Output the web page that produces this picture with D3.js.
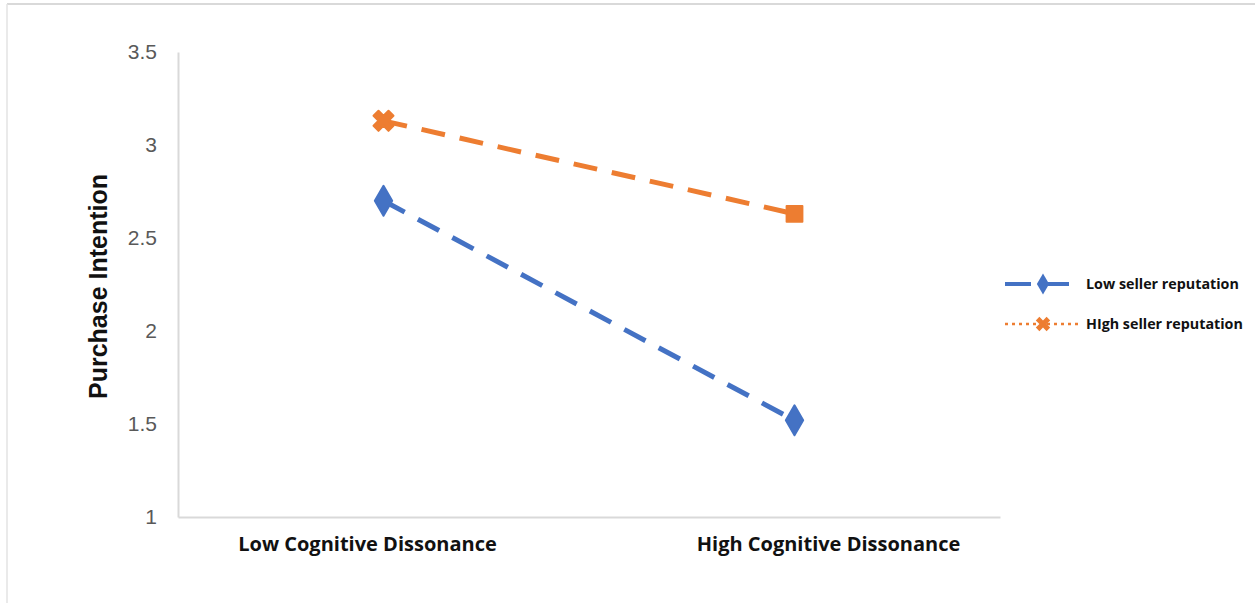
<!DOCTYPE html>
<html>
<head>
<meta charset="utf-8">
<script src="https://cdn.jsdelivr.net/npm/d3@7"></script>
<style>
  body { margin: 0; background: #fff; }
  svg { display: block; }
</style>
</head>
<body>
<svg id="chart"></svg>
<script>
const categories = ['Low Cognitive Dissonance', 'High Cognitive Dissonance'];
const lowReputation = [2.70, 1.52];
const highReputation = [3.13, 2.63];
const yTicks = [1, 1.5, 2, 2.5, 3, 3.5];
const seriesNames = ['Low seller reputation', 'HIgh seller reputation'];

const width = 1255, height = 603;
const svg = d3.select('#chart').attr('width', width).attr('height', height);

// frame
svg.append('line').attr('x1', 7).attr('x2', width).attr('y1', 4).attr('y2', 4)
  .attr('stroke', '#d9d9d9').attr('stroke-width', 2);
svg.append('line').attr('x1', 7).attr('x2', 7).attr('y1', 4).attr('y2', height)
  .attr('stroke', '#e3e3e3').attr('stroke-width', 1.5);

const margin = { left: 178, right: 255, top: 52, bottom: 86 };
const x = d3.scaleBand().domain(categories)
  .range([margin.left, width - margin.right]);
const y = d3.scaleLinear().domain([1, 3.5])
  .range([height - margin.bottom, margin.top]);

// axes
const yAxis = svg.append('g').attr('transform', `translate(${margin.left},0)`)
  .call(d3.axisLeft(y).tickValues(yTicks).tickSize(0).tickPadding(21)
    .tickFormat(d3.format('~g')));
yAxis.select('.domain').attr('stroke', '#d9d9d9').attr('stroke-width', 2);
yAxis.selectAll('text').attr('font-family', 'Liberation Sans, Arial, sans-serif')
  .attr('font-size', 21).attr('fill', '#595959');

const xAxis = svg.append('g').attr('transform', `translate(0,${y(1)})`)
  .call(d3.axisBottom(x).tickSize(0).tickPadding(20));
xAxis.select('.domain').attr('stroke', '#d9d9d9').attr('stroke-width', 2);
xAxis.selectAll('text').attr('font-family', 'Open Sans, DejaVu Sans, sans-serif')
  .attr('font-weight', 'bold').attr('font-size', 20).attr('fill', '#111')
  .attr('dx', (d, i) => i === 0 ? -16 : 34);

svg.append('text')
  .attr('transform', `translate(107,${(y(1) + y(3.5)) / 2 + 2}) rotate(-90)`)
  .attr('text-anchor', 'middle')
  .attr('font-family', 'Liberation Sans, Arial, sans-serif')
  .attr('font-weight', 'bold').attr('font-size', 25).attr('fill', '#111')
  .text('Purchase Intention');

const line = d3.line().x((d, i) => x(categories[i]) + x.bandwidth() / 2).y(d => y(d));

const series = [
  { name: seriesNames[0], values: lowReputation, color: '#4472c4', dash: '24,15', symbols: [d3.symbolDiamond, d3.symbolDiamond] },
  { name: seriesNames[1], values: highReputation, color: '#ed7d31', dash: '24,15', symbols: [d3.symbolCross, d3.symbolSquare] }
];

series.forEach(s => {
  svg.append('path').datum(s.values)
    .attr('d', line).attr('fill', 'none')
    .attr('stroke', s.color).attr('stroke-width', 5)
    .attr('stroke-dasharray', s.dash);
  svg.selectAll(null).data(s.values).enter().append('path')
    .attr('transform', (d, i) => `translate(${x(categories[i]) + x.bandwidth() / 2},${y(d)})` + (i === 0 && s.symbols[i] === d3.symbolCross ? ' rotate(45)' : ''))
    .attr('d', (d, i) => d3.symbol().type(s.symbols[i]).size(s.symbols[i] === d3.symbolDiamond ? 260 : 250)())
    .attr('fill', s.color)
    .attr('stroke', s.color).attr('stroke-width', 2).attr('stroke-linejoin', 'round');
});

// legend
const legend = svg.append('g').attr('transform', 'translate(1005,284)');
series.forEach((s, i) => {
  const g = legend.append('g').attr('transform', `translate(0,${i * 40})`);
  g.append('line').attr('x1', 0).attr('x2', 76).attr('y1', 0).attr('y2', 0)
    .attr('stroke', s.color)
    .attr('stroke-width', i === 0 ? 4 : 2.5)
    .attr('stroke-dasharray', i === 0 ? '26,12' : '3,4');
  g.append('path')
    .attr('transform', `translate(38,0)` + (i === 1 ? ' rotate(45)' : ''))
    .attr('d', d3.symbol().type(i === 0 ? d3.symbolDiamond : d3.symbolCross).size(130)())
    .attr('fill', s.color);
  g.append('text').attr('x', 81).attr('y', 0).attr('dy', '0.35em')
    .attr('font-family', 'Open Sans, DejaVu Sans, sans-serif')
    .attr('font-weight', 'bold').attr('font-size', 14.3).attr('fill', '#111')
    .text(s.name);
});
</script>
</body>
</html>
